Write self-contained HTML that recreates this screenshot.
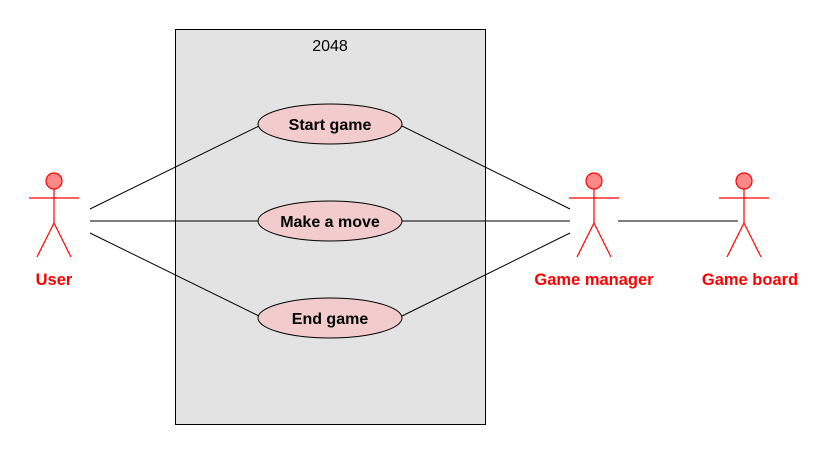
<!DOCTYPE html>
<html><head><style>body{margin:0;background:#fff}</style></head><body>
<svg width="832" height="454" xmlns="http://www.w3.org/2000/svg" font-family="Liberation Sans, sans-serif">
<rect x="175.5" y="29.5" width="310" height="395" fill="#e3e3e3" stroke="#000" stroke-width="1"/>
<text x="330" y="51" font-size="16" text-anchor="middle">2048</text>
<g stroke="#000" stroke-width="1" fill="none">
<line x1="90" y1="209" x2="259" y2="126"/>
<line x1="90" y1="221" x2="258" y2="221"/>
<line x1="90" y1="233" x2="259" y2="316"/>
<line x1="402" y1="126" x2="570" y2="209"/>
<line x1="402" y1="221" x2="570" y2="221"/>
<line x1="402" y1="316" x2="570" y2="233"/>
<line x1="618" y1="221" x2="738" y2="221"/>
</g>
<g fill="#f2cccc" stroke="#000" stroke-width="1">
<ellipse cx="330" cy="124" rx="72" ry="20"/>
<ellipse cx="330" cy="221" rx="72" ry="20"/>
<ellipse cx="330" cy="318" rx="72" ry="20"/>
</g>
<g font-size="16" font-weight="bold" text-anchor="middle">
<text x="330" y="130">Start game</text>
<text x="330" y="227">Make a move</text>
<text x="330" y="324">End game</text>
</g>
<defs><g id="a" stroke="#f00" stroke-width="1.2" fill="none">
<circle cx="0" cy="-40" r="8" fill="#f88"/>
<line x1="-25" y1="-23" x2="25" y2="-23"/>
<line x1="0" y1="-32" x2="0" y2="2"/>
<line x1="0" y1="2" x2="-17" y2="36"/>
<line x1="0" y1="2" x2="17" y2="36"/>
</g></defs>
<use href="#a" x="54" y="221"/>
<use href="#a" x="594" y="221"/>
<use href="#a" x="744" y="221"/>
<g fill="#f00" font-size="16.5" font-weight="bold" text-anchor="middle">
<text x="54" y="285">User</text>
<text x="594" y="285">Game manager</text>
<text x="750" y="285">Game board</text>
</g>
</svg>
</body></html>
